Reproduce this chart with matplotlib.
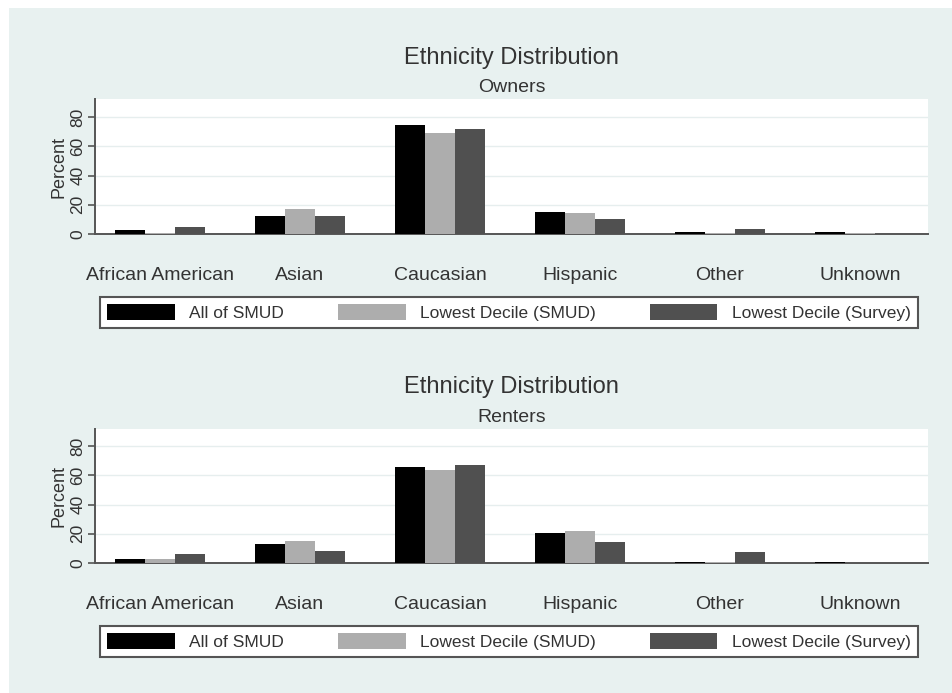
"""
Ethnicity distribution for owners and renters, Stata-style grouped bars.
"""
import matplotlib
matplotlib.use("Agg")
import matplotlib.pyplot as plt
import numpy as np
from matplotlib.patches import Rectangle, Patch

# ---- Data ----
categories = ["African American", "Asian", "Caucasian", "Hispanic", "Other", "Unknown"]
series_names = ["All of SMUD", "Lowest Decile (SMUD)", "Lowest Decile (Survey)"]

owners_all = [2.7, 12.5, 74.8, 14.8, 1.5, 1.5]
owners_smud_low = [0.8, 16.9, 69.4, 14.6, 0.8, 1.0]
owners_survey_low = [4.8, 12.5, 72.0, 10.5, 3.6, 0.0]

renters_all = [2.7, 12.8, 66.0, 20.5, 1.0, 1.0]
renters_smud_low = [2.5, 15.1, 64.0, 21.9, 0.5, 0.0]
renters_survey_low = [6.2, 8.4, 67.1, 14.2, 7.5, 0.0]

panels = [
    ("Owners", [owners_all, owners_smud_low, owners_survey_low]),
    ("Renters", [renters_all, renters_smud_low, renters_survey_low]),
]

# ---- Style ----
W, H = 953, 693
BG = "#e8f1f0"
TXT = "#333333"
AXC = "#555555"
bar_colors = ["#000000", "#adadad", "#505050"]

plt.rcParams["font.family"] = ["Liberation Sans", "DejaVu Sans"]

fig = plt.figure(figsize=(W / 100, H / 100), dpi=100)
fig.patch.set_facecolor("white")
fig.add_artist(Rectangle((9 / W, 0), 1 - 9 / W, 1 - 8 / H, transform=fig.transFigure,
                         facecolor=BG, edgecolor="none", zorder=-10))


def fx(px):
    return px / W


def fy(py):
    return 1 - py / H


# pixel layout of each panel: (axis top, axis zero, title y, subtitle y, legend top, legend bottom)
layout = [
    (99, 234, 57, 86, 298, 328),
    (429, 563, 386, 416, 627, 657),
]

x = np.arange(len(categories))
width = 0.214

for (subtitle, values), (top, zero, ty, sy, lt, lb) in zip(panels, layout):
    ax = fig.add_axes([fx(95), fy(zero), fx(928 - 95), (zero - top) / H])
    ax.set_facecolor("white")
    for i, vals in enumerate(values):
        ax.bar(x + (i - 1) * width, vals, width, color=bar_colors[i], zorder=3)

    ax.set_xlim(-0.464, 5.486)
    ax.set_ylim(0, (zero - top) / 1.46)
    ax.set_yticks([0, 20, 40, 60, 80])
    ax.set_yticklabels(["0", "20", "40", "60", "80"], rotation=90, va="center",
                       fontsize=12.5, color=TXT)
    ax.set_xticks(x)
    ax.set_xticklabels(categories, fontsize=14, color=TXT)
    ax.tick_params(axis="x", length=0, pad=23.5)
    ax.tick_params(axis="y", length=5, width=1.2, color=AXC, pad=2)
    ax.set_ylabel("Percent", fontsize=13, color=TXT, labelpad=2)
    ax.grid(axis="y", color="#e6eeee", linewidth=1.0, zorder=0)
    for side in ["top", "right"]:
        ax.spines[side].set_visible(False)
    for side in ["left", "bottom"]:
        ax.spines[side].set_color(AXC)
        ax.spines[side].set_linewidth(1.4)

    fig.text(fx(511.5), fy(ty + 1), "Ethnicity Distribution", ha="center", va="center",
             fontsize=17, color=TXT)
    fig.text(fx(511.5), fy(sy + 1), subtitle, ha="center", va="center",
             fontsize=14, color=TXT)

    handles = [Patch(facecolor=c, edgecolor="none") for c in bar_colors]
    leg = fig.legend(handles, series_names, loc="lower left", ncol=3, mode="expand",
                     bbox_to_anchor=(fx(100), fy(lb), fx(918 - 100), (lb - lt) / H),
                     fontsize=12.5, handlelength=3.9, handleheight=1.0,
                     handletextpad=0.85, borderaxespad=0, borderpad=0.4,
                     fancybox=False, framealpha=1, labelcolor=TXT)
    leg.get_frame().set_edgecolor(AXC)
    leg.get_frame().set_linewidth(1.5)

fig.savefig("out.png", dpi=100, facecolor=fig.get_facecolor())
